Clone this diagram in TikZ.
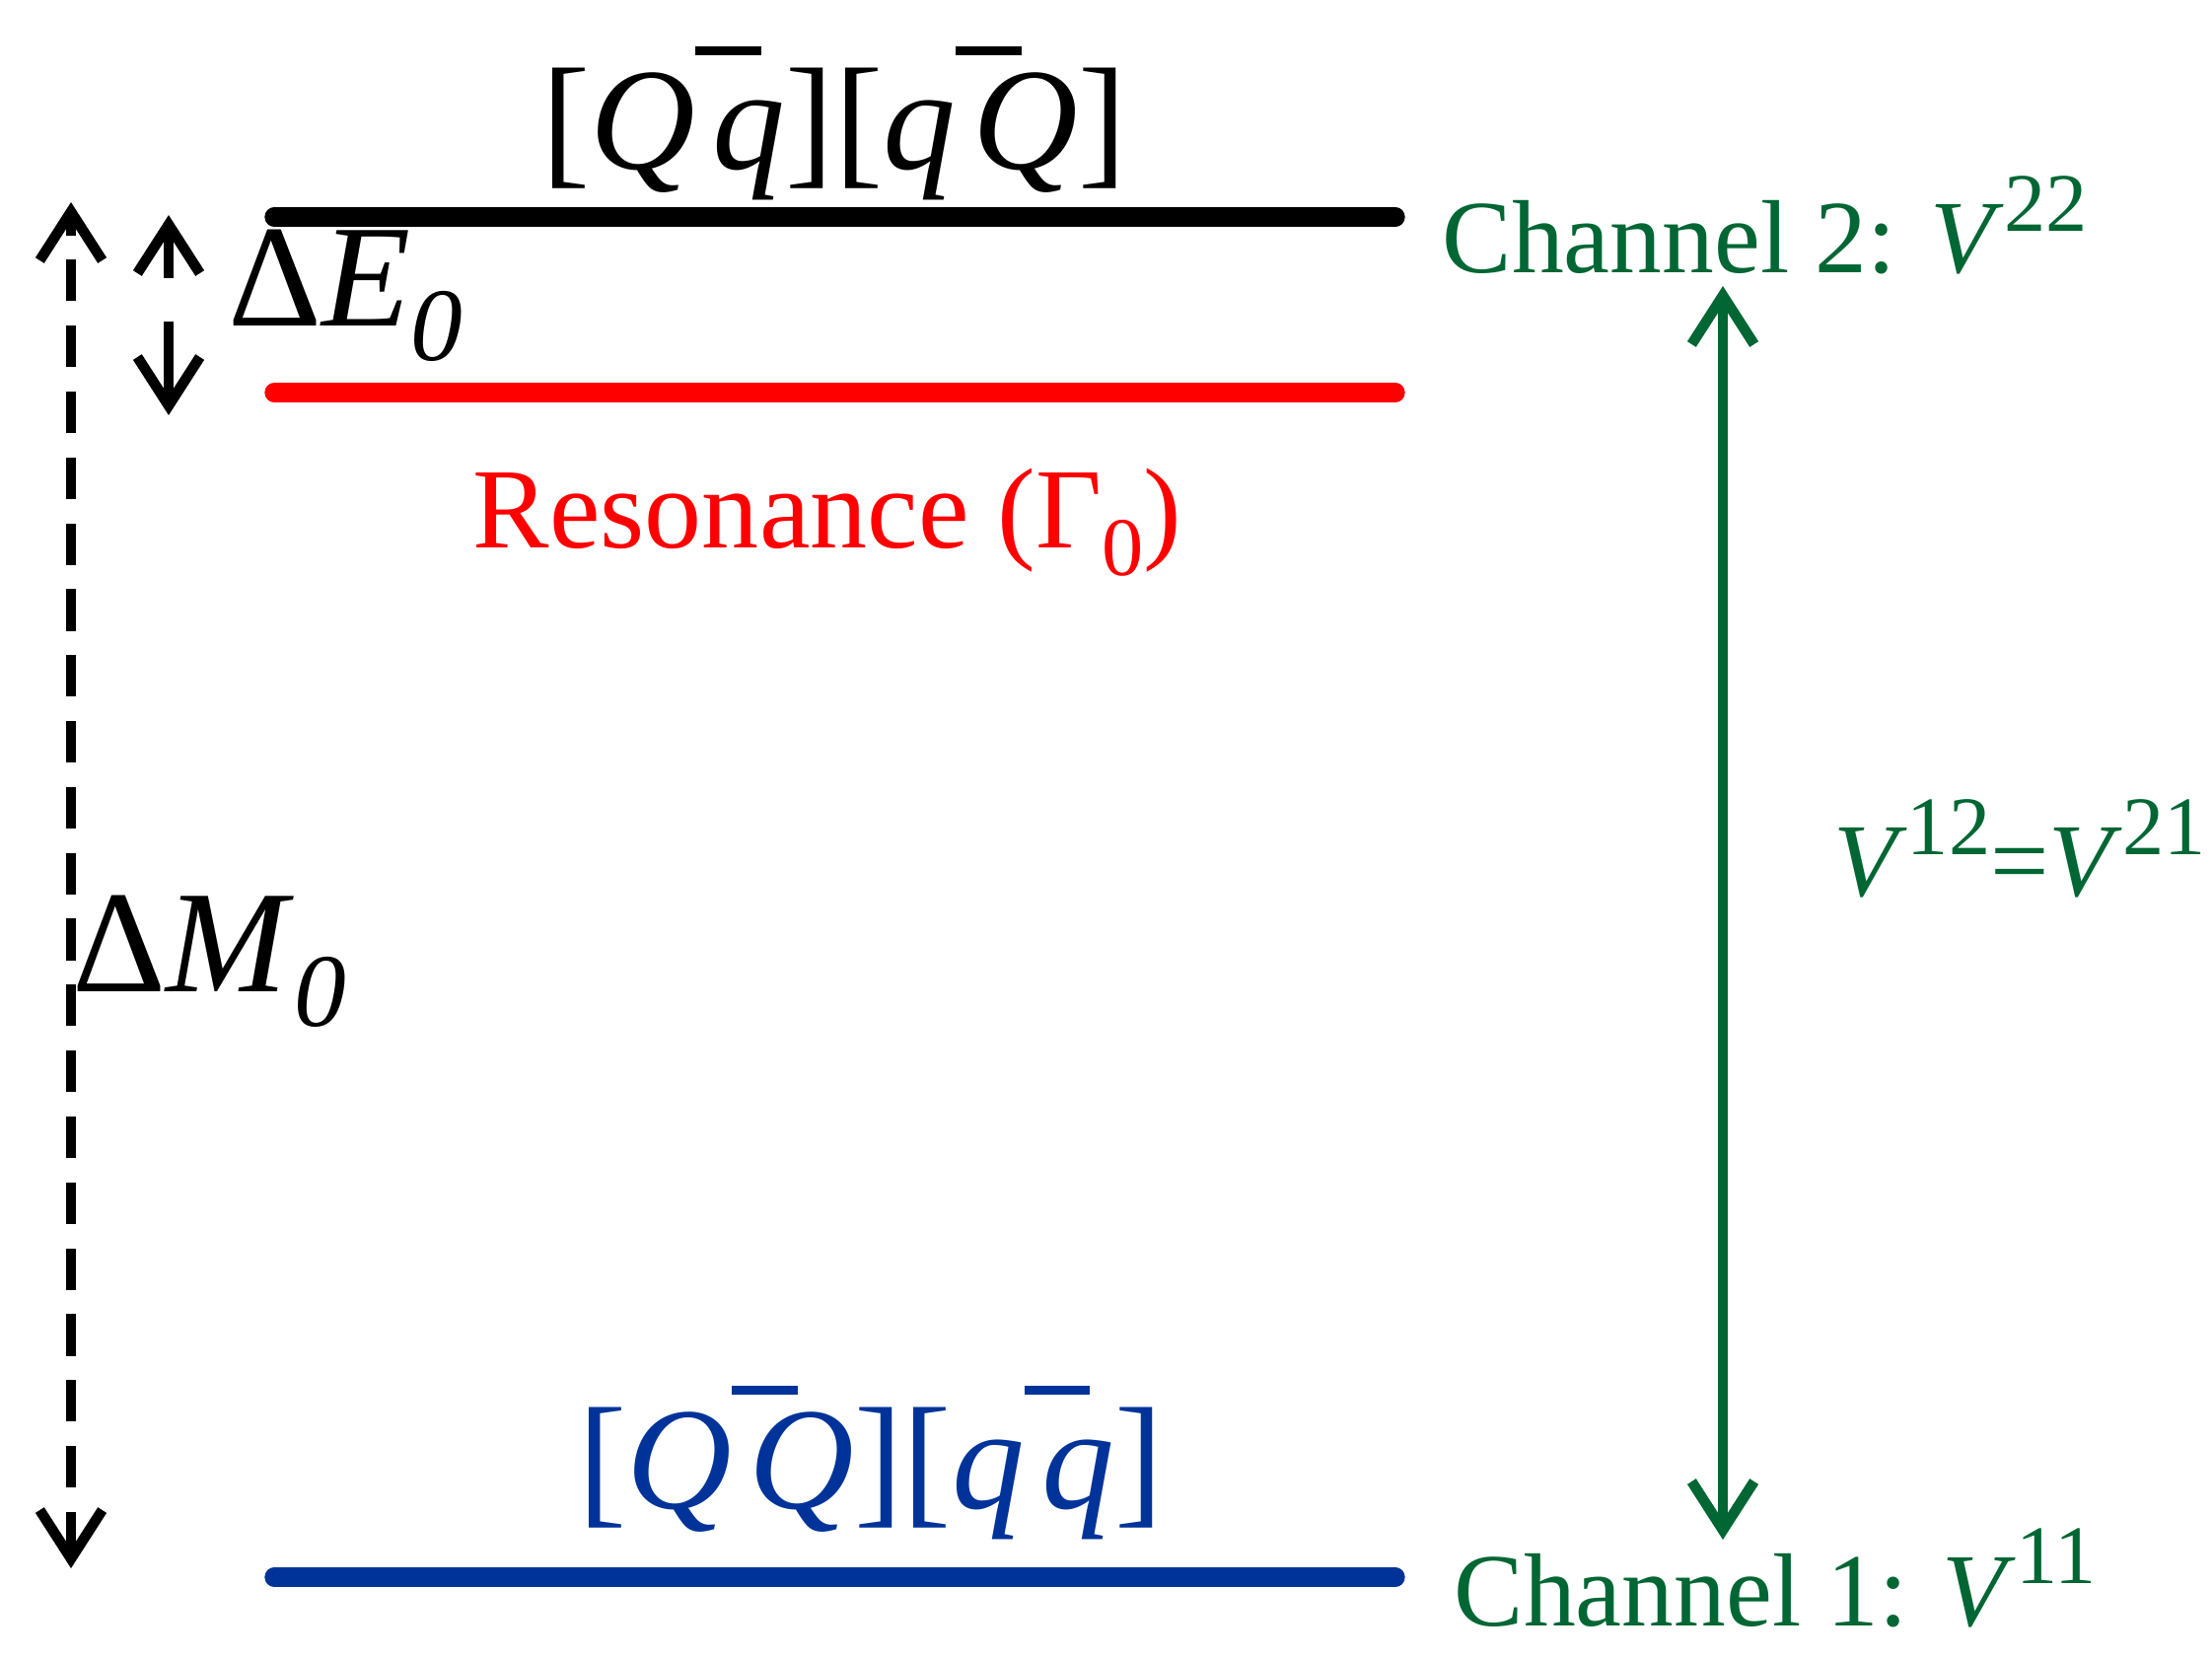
\documentclass[tikz,border=0pt]{standalone}
\usepackage{fontspec}
\setmainfont{Liberation Serif}
\usetikzlibrary{arrows.meta}
\definecolor{cgreen}{RGB}{0,102,51}
\definecolor{cblue}{RGB}{0,51,153}
\newcommand{\ov}[1]{\leavevmode\rlap{\raisebox{0.78em}{\rule[0pt]{0.45em}{2.5pt}}}\hspace{0.12em}#1}
\newcommand{\sps}[1]{\raisebox{12pt}{\fontsize{24}{26}\selectfont #1}}
\begin{document}
\begin{tikzpicture}[x=0.01cm,y=-0.01cm,
  lvl/.style={line width=5.5pt,line cap=round},
  txt/.style={font=\fontsize{30}{34}\selectfont,inner sep=0pt},
  big/.style={font=\fontsize{42}{44}\selectfont,inner sep=0pt},
  tip/.tip={Straight Barb[length=14pt,width=18pt,line width=3pt]},
  arr/.style={line width=3pt,-{tip}}]
\useasboundingbox (0,0) rectangle (2243,1681);
\coordinate (b1) at (278,220); \coordinate (b2) at (1415,220);
\coordinate (r1) at (278,398); \coordinate (r2) at (1415,398);
\coordinate (u1) at (278,1599); \coordinate (u2) at (1415,1599);
\draw[lvl] (b1) -- (b2);
\draw[lvl,red] (r1) -- (r2);
\draw[lvl,cblue] (u1) -- (u2);
\coordinate (d1) at (72,1590); \coordinate (d2) at (72,205);
\draw[line width=3pt,{tip}-{tip},dash pattern=on 12pt off 7pt] (d1) -- (d2);
\coordinate (s1) at (171,282); \coordinate (s2) at (171,218);
\coordinate (s3) at (171,326); \coordinate (s4) at (171,421);
\draw[arr] (s1) -- (s2);
\draw[arr] (s3) -- (s4);
\coordinate (g1) at (1747,290); \coordinate (g2) at (1747,1561);
\draw[line width=3pt,cgreen,{tip}-{tip}] (g1) -- (g2);
\node[big] (dE) at (350,300) {Δ\textit{E}\raisebox{-10pt}{\fontsize{30}{32}\selectfont\textit{0}}};
\node[big] (dM) at (212,975) {Δ\textit{M}\raisebox{-10pt}{\fontsize{30}{32}\selectfont\textit{0}}};
\node[big] (top) at (846,125) {[\textit{Q}\ov{\textit{q}}][\textit{q}\ov{\textit{Q}}]};
\node[big,cblue] (bot) at (883,1483) {[\textit{Q}\ov{\textit{Q}}][\textit{q}\ov{\textit{q}}]};
\node[txt,font=\fontsize{33}{36}\selectfont,red] (res) at (839,530) {Resonance (Γ\raisebox{-8pt}{\fontsize{24}{26}\selectfont 0})};
\node[txt,cgreen,anchor=west] (c2) at (1462,228) {Channel 2: \textit{V}\sps{22}};
\node[txt,cgreen,anchor=west] (c1) at (1474,1600) {Channel 1: \textit{V}\sps{11}};
\node[txt,cgreen] (v) at (2048,860) {\textit{V}\sps{12}=\textit{V}\sps{21}};
\end{tikzpicture}
\end{document}
